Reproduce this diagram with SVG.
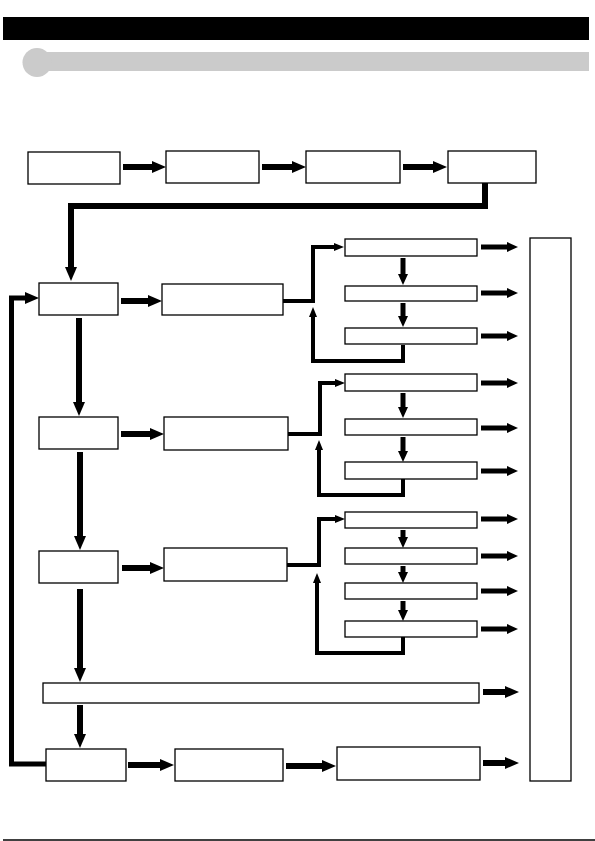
<svg xmlns="http://www.w3.org/2000/svg" width="595" height="841" viewBox="0 0 595 841">
<style>
.box{fill:#fff;stroke:#000;stroke-width:1.3}
.c{fill:none;stroke:#000;stroke-linejoin:miter;stroke-linecap:butt}
.w6{stroke-width:6}
.w5{stroke-width:5}
.w4{stroke-width:4}
.w3{stroke-width:3}
</style>
<defs>
<marker id="big" markerUnits="userSpaceOnUse" viewBox="0 -6 14 12" markerWidth="14" markerHeight="12" refX="0" refY="0" orient="auto" overflow="visible"><path d="M0,-6 L14,0 L0,6 z" fill="#000"/></marker>
<marker id="med" markerUnits="userSpaceOnUse" viewBox="0 -5 11 10" markerWidth="11" markerHeight="10" refX="0" refY="0" orient="auto" overflow="visible"><path d="M0,-5 L11,0 L0,5 z" fill="#000"/></marker>
<marker id="sml" markerUnits="userSpaceOnUse" viewBox="0 -4 10 8" markerWidth="10" markerHeight="8" refX="0" refY="0" orient="auto" overflow="visible"><path d="M0,-4 L10,0 L0,4 z" fill="#000"/></marker>
</defs>
<g id="header">
<rect x="3" y="17" width="586" height="23" fill="#000"/>
<rect x="37" y="52" width="552" height="19" fill="#cbcbcb"/>
<circle cx="37" cy="62.5" r="14.5" fill="#cbcbcb"/>
</g>
<g id="connectors">
<line class="c w6" x1="123" y1="167" x2="152" y2="167" marker-end="url(#big)"/>
<line class="c w6" x1="262" y1="167" x2="292" y2="167" marker-end="url(#big)"/>
<line class="c w6" x1="403" y1="167" x2="433" y2="167" marker-end="url(#big)"/>
<polyline class="c w6" points="485,183 485,206 71,206 71,267" marker-end="url(#big)"/>
<line class="c w6" x1="121" y1="301" x2="148" y2="301" marker-end="url(#big)"/>
<line class="c w6" x1="79" y1="318" x2="79" y2="402" marker-end="url(#big)"/>
<line class="c w6" x1="121" y1="434" x2="150" y2="434" marker-end="url(#big)"/>
<line class="c w6" x1="80" y1="452" x2="80" y2="536" marker-end="url(#big)"/>
<line class="c w6" x1="122" y1="568" x2="150" y2="568" marker-end="url(#big)"/>
<line class="c w6" x1="80" y1="589" x2="80" y2="668" marker-end="url(#big)"/>
<line class="c w6" x1="80" y1="705" x2="80" y2="734" marker-end="url(#big)"/>
<line class="c w6" x1="128" y1="765" x2="160" y2="765" marker-end="url(#big)"/>
<line class="c w6" x1="286" y1="766" x2="322" y2="766" marker-end="url(#big)"/>
<line class="c w6" x1="483" y1="763" x2="505" y2="763" marker-end="url(#big)"/>
<line class="c w6" x1="483" y1="692" x2="505" y2="692" marker-end="url(#big)"/>
<polyline class="c w5" points="46,764 11.5,764 11.5,298 25,298" marker-end="url(#big)"/>
<!-- section 1 -->
<polyline class="c w4" points="283,301 313,301 313,247 334,247" marker-end="url(#sml)"/>
<polyline class="c w4" points="403,345 403,361 313,361 313,317" marker-end="url(#sml)"/>
<line class="c w5" x1="403" y1="258" x2="403" y2="274" marker-end="url(#med)"/>
<line class="c w5" x1="403" y1="303" x2="403" y2="316" marker-end="url(#med)"/>
<line class="c w5" x1="481" y1="247" x2="507" y2="247" marker-end="url(#med)"/>
<line class="c w5" x1="481" y1="293" x2="507" y2="293" marker-end="url(#med)"/>
<line class="c w5" x1="481" y1="336" x2="507" y2="336" marker-end="url(#med)"/>
<!-- section 2 -->
<polyline class="c w4" points="288,434 320,434 320,383 335,383" marker-end="url(#sml)"/>
<polyline class="c w4" points="403,479 403,495 319,495 319,450" marker-end="url(#sml)"/>
<line class="c w5" x1="403" y1="393" x2="403" y2="407" marker-end="url(#med)"/>
<line class="c w5" x1="403" y1="437" x2="403" y2="451" marker-end="url(#med)"/>
<line class="c w5" x1="481" y1="383" x2="507" y2="383" marker-end="url(#med)"/>
<line class="c w5" x1="481" y1="428" x2="507" y2="428" marker-end="url(#med)"/>
<line class="c w5" x1="481" y1="471" x2="507" y2="471" marker-end="url(#med)"/>
<!-- section 3 -->
<polyline class="c w4" points="287,565 319,565 319,519 335,519" marker-end="url(#sml)"/>
<polyline class="c w4" points="403,637 403,653 317,653 317,583" marker-end="url(#sml)"/>
<line class="c w5" x1="403" y1="530" x2="403" y2="537" marker-end="url(#med)"/>
<line class="c w5" x1="403" y1="566" x2="403" y2="572" marker-end="url(#med)"/>
<line class="c w5" x1="403" y1="601" x2="403" y2="610" marker-end="url(#med)"/>
<line class="c w5" x1="481" y1="519" x2="507" y2="519" marker-end="url(#med)"/>
<line class="c w5" x1="481" y1="556" x2="507" y2="556" marker-end="url(#med)"/>
<line class="c w5" x1="481" y1="591" x2="507" y2="591" marker-end="url(#med)"/>
<line class="c w5" x1="481" y1="629" x2="507" y2="629" marker-end="url(#med)"/>
</g>
<g id="n1"><rect class="box" x="28" y="152" width="92" height="32"/></g>
<g id="n2"><rect class="box" x="166" y="151" width="93" height="32"/></g>
<g id="n3"><rect class="box" x="306" y="151" width="94" height="32"/></g>
<g id="n4"><rect class="box" x="448" y="151" width="88" height="32"/></g>
<g id="nA"><rect class="box" x="39" y="283" width="79" height="32"/></g>
<g id="nB"><rect class="box" x="162" y="284" width="121" height="31"/></g>
<g id="nC"><rect class="box" x="39" y="417" width="79" height="32"/></g>
<g id="nD"><rect class="box" x="164" y="417" width="124" height="33"/></g>
<g id="nE"><rect class="box" x="39" y="551" width="79" height="32"/></g>
<g id="nF"><rect class="box" x="164" y="548" width="123" height="33"/></g>
<g id="s1"><rect class="box" x="345" y="239" width="132" height="17"/></g>
<g id="s2"><rect class="box" x="345" y="286" width="132" height="15"/></g>
<g id="s3"><rect class="box" x="345" y="328" width="132" height="16"/></g>
<g id="s4"><rect class="box" x="345" y="374" width="132" height="17"/></g>
<g id="s5"><rect class="box" x="345" y="419" width="132" height="16"/></g>
<g id="s6"><rect class="box" x="345" y="462" width="132" height="17"/></g>
<g id="s7"><rect class="box" x="345" y="512" width="132" height="16"/></g>
<g id="s8"><rect class="box" x="345" y="548" width="132" height="16"/></g>
<g id="s9"><rect class="box" x="345" y="583" width="132" height="16"/></g>
<g id="s10"><rect class="box" x="345" y="621" width="132" height="16"/></g>
<g id="nLong"><rect class="box" x="43" y="683" width="436" height="20"/></g>
<g id="nG"><rect class="box" x="46" y="749" width="80" height="32"/></g>
<g id="nH"><rect class="box" x="175" y="749" width="108" height="32"/></g>
<g id="nI"><rect class="box" x="337" y="747" width="143" height="33"/></g>
<g id="nR"><rect class="box" x="530" y="238" width="41" height="543"/></g>
<g id="footer"><line x1="3" y1="840" x2="595" y2="840" stroke="#000" stroke-width="1.5"/></g>
</svg>
